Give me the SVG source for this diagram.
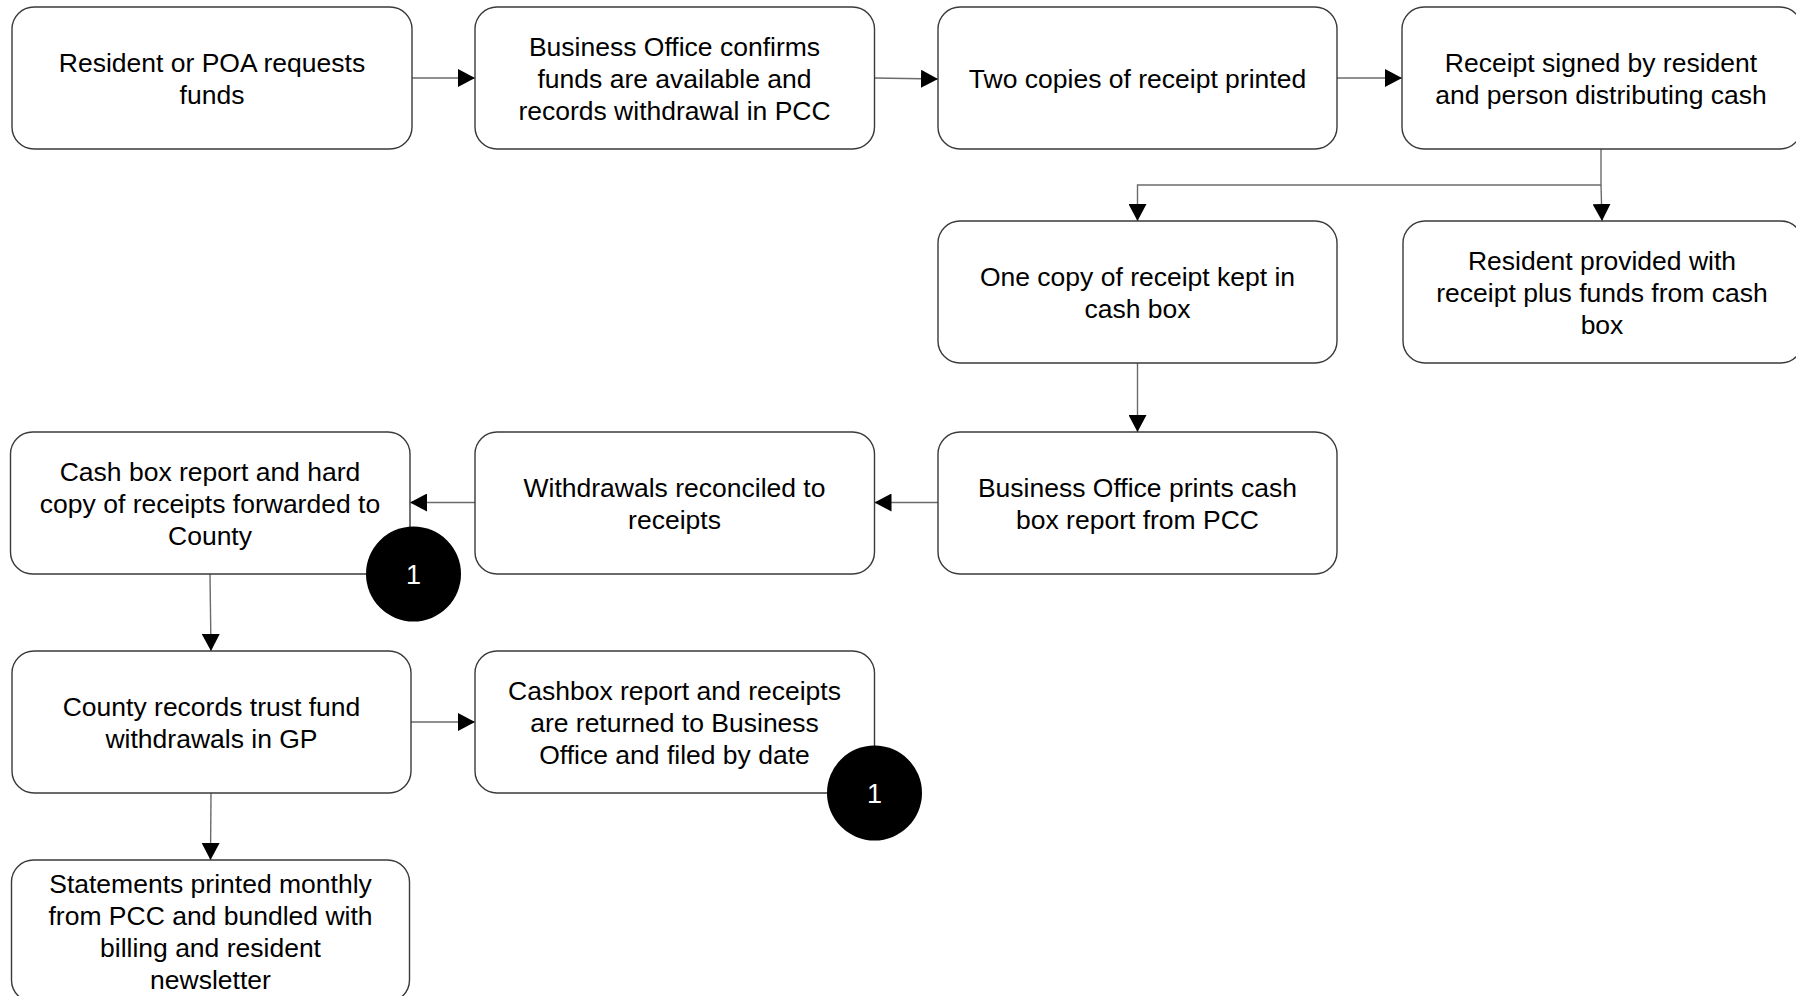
<svg xmlns="http://www.w3.org/2000/svg" width="1796" height="996" viewBox="0 0 1796 996">
<defs>
<style>
.box{fill:#fff;stroke:#3a3a3a;stroke-width:1.4}
.t{font-family:"Liberation Sans",Arial,sans-serif;font-size:26.5px;fill:#000;text-anchor:middle}
.c{fill:none;stroke:#6b6b6b;stroke-width:1.4}
.dot{fill:#000}
.n{font-family:"Liberation Sans",Arial,sans-serif;font-size:27px;fill:#fff;text-anchor:middle}
</style>
<marker id="ah" markerUnits="userSpaceOnUse" markerWidth="18" markerHeight="18" refX="17" refY="9" orient="auto">
<path d="M0,0 L17,9 L0,18 Z" fill="#000"/>
</marker>
</defs>
<rect width="1796" height="996" fill="#fff"/>
<g id="connectors">
<path class="c" d="M412,78 L475,78" marker-end="url(#ah)"/>
<path class="c" d="M874,78 L938,79" marker-end="url(#ah)"/>
<path class="c" d="M1337,78 L1402,78" marker-end="url(#ah)"/>
<path class="c" d="M1601,149 L1601,185 L1137.5,185 L1137.5,221" marker-end="url(#ah)"/>
<path class="c" d="M1601,185 L1602,221" marker-end="url(#ah)"/>
<path class="c" d="M1137.5,363 L1137.5,432" marker-end="url(#ah)"/>
<path class="c" d="M938,502.5 L874.5,502.5" marker-end="url(#ah)"/>
<path class="c" d="M475,502.5 L410,502.5" marker-end="url(#ah)"/>
<path class="c" d="M210,574 L211,651" marker-end="url(#ah)"/>
<path class="c" d="M411,722 L475,722" marker-end="url(#ah)"/>
<path class="c" d="M211,793 L210.5,860" marker-end="url(#ah)"/>
</g>
<g id="n1"><rect class="box" x="12" y="7" width="400" height="142" rx="22"/>
<text class="t"><tspan x="212" y="72">Resident or POA requests</tspan><tspan x="212" y="104">funds</tspan></text></g>
<g id="n2"><rect class="box" x="475" y="7" width="399.5" height="142" rx="22"/>
<text class="t"><tspan x="674.5" y="56">Business Office confirms</tspan><tspan x="674.5" y="88">funds are available and</tspan><tspan x="674.5" y="120">records withdrawal in PCC</tspan></text></g>
<g id="n3"><rect class="box" x="938" y="7" width="399" height="142" rx="22"/>
<text class="t"><tspan x="1137.5" y="88">Two copies of receipt printed</tspan></text></g>
<g id="n4"><rect class="box" x="1402" y="7" width="400" height="142" rx="22"/>
<text class="t"><tspan x="1601" y="72">Receipt signed by resident</tspan><tspan x="1601" y="104">and person distributing cash</tspan></text></g>
<g id="n5"><rect class="box" x="938" y="221" width="399" height="142" rx="22"/>
<text class="t"><tspan x="1137.5" y="286">One copy of receipt kept in</tspan><tspan x="1137.5" y="318">cash box</tspan></text></g>
<g id="n6"><rect class="box" x="1403" y="221" width="400" height="142" rx="22"/>
<text class="t"><tspan x="1602" y="270">Resident provided with</tspan><tspan x="1602" y="302">receipt plus funds from cash</tspan><tspan x="1602" y="334">box</tspan></text></g>
<g id="n7"><rect class="box" x="10.5" y="432" width="399.5" height="142" rx="22"/>
<text class="t"><tspan x="210" y="481">Cash box report and hard</tspan><tspan x="210" y="513">copy of receipts forwarded to</tspan><tspan x="210" y="545">County</tspan></text></g>
<g id="n8"><rect class="box" x="475" y="432" width="399.5" height="142" rx="22"/>
<text class="t"><tspan x="674.5" y="497">Withdrawals reconciled to</tspan><tspan x="674.5" y="529">receipts</tspan></text></g>
<g id="n9"><rect class="box" x="938" y="432" width="399" height="142" rx="22"/>
<text class="t"><tspan x="1137.5" y="497">Business Office prints cash</tspan><tspan x="1137.5" y="529">box report from PCC</tspan></text></g>
<g id="n10"><rect class="box" x="12" y="651" width="399" height="142" rx="22"/>
<text class="t"><tspan x="211.5" y="716">County records trust fund</tspan><tspan x="211.5" y="748">withdrawals in GP</tspan></text></g>
<g id="n11"><rect class="box" x="475" y="651" width="399.5" height="142" rx="22"/>
<text class="t"><tspan x="674.5" y="700">Cashbox report and receipts</tspan><tspan x="674.5" y="732">are returned to Business</tspan><tspan x="674.5" y="764">Office and filed by date</tspan></text></g>
<g id="n12"><rect class="box" x="11.5" y="860" width="398" height="142" rx="22"/>
<text class="t"><tspan x="210.5" y="893">Statements printed monthly</tspan><tspan x="210.5" y="925">from PCC and bundled with</tspan><tspan x="210.5" y="957">billing and resident</tspan><tspan x="210.5" y="989">newsletter</tspan></text></g>
<g id="marker1"><circle class="dot" cx="413.5" cy="574" r="47.5"/><text class="n" x="413.5" y="584">1</text></g>
<g id="marker2"><circle class="dot" cx="874.5" cy="793" r="47.5"/><text class="n" x="874.5" y="803">1</text></g>
</svg>
